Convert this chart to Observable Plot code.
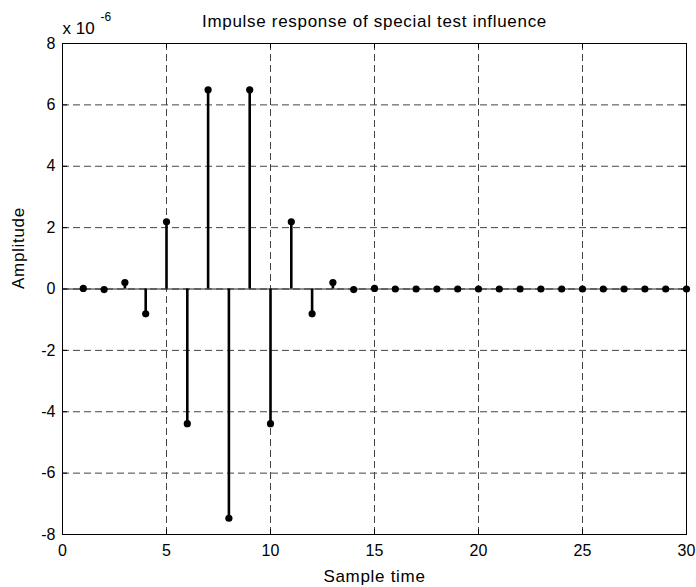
<!DOCTYPE html>
<html>
<head>
<meta charset="utf-8">
<script src="https://cdn.jsdelivr.net/npm/d3@7"></script>
<script src="https://cdn.jsdelivr.net/npm/@observablehq/plot@0.6"></script>
<style>
  html, body { margin: 0; padding: 0; background: #fff; }
  #chart svg { display: block; }
  .lbl text { letter-spacing: 0.7px; }
</style>
</head>
<body>
<div id="chart"></div>
<script>
// Sample times
const sampleTime = d3.range(1, 31);
// Amplitude values in units of 1e-6
const amplitude = [
  0.02, -0.02, 0.21, -0.81, 2.19, -4.39, 6.49, -7.47, 6.49, -4.39,
  2.19, -0.81, 0.21, -0.02, 0.02, 0, 0, 0, 0, 0,
  0, 0, 0, 0, 0, 0, 0, 0, 0, 0
];
const xTicks = [0, 5, 10, 15, 20, 25, 30];
const yTicks = [-8, -6, -4, -2, 0, 2, 4, 6, 8];
const titleText = "Impulse response of special test influence";
const xLabel = "Sample time";
const yLabel = "Amplitude";
const exponentBase = "x 10";
const exponentPower = "-6";

const data = sampleTime.map((t, i) => ({t, v: amplitude[i]}));

const W = 696, H = 587;
const mL = 62, mR = 10, mT = 43, mB = 53;
const fw = W - mL - mR, fh = H - mT - mB;
const tk = 5;

const chart = Plot.plot({
  width: W,
  height: H,
  marginLeft: mL,
  marginRight: mR,
  marginTop: mT,
  marginBottom: mB,
  style: {fontFamily: "'Liberation Sans', Arial, Helvetica, sans-serif", fontSize: "16px", color: "#000", background: "#fff"},
  x: {domain: [0, 30]},
  y: {domain: [-8, 8]},
  marks: [
    // dashed grid
    Plot.ruleX(xTicks, {stroke: "#444", strokeWidth: 1, strokeDasharray: "7,4"}),
    Plot.ruleY(yTicks, {stroke: "#444", strokeWidth: 1, strokeDasharray: "7,4"}),
    // inward ticks
    Plot.ruleX(xTicks, {stroke: "#000", insetTop: fh - tk}),
    Plot.ruleX(xTicks, {stroke: "#000", insetBottom: fh - tk}),
    Plot.ruleY(yTicks, {stroke: "#000", insetRight: fw - tk}),
    Plot.ruleY(yTicks, {stroke: "#000", insetLeft: fw - tk}),
    // baseline
    Plot.ruleY([0], {stroke: "#222", strokeWidth: 1}),
    // stems
    Plot.ruleX(data, {x: "t", y1: 0, y2: "v", stroke: "#000", strokeWidth: 2.6}),
    Plot.dot(data, {x: "t", y: "v", r: 3.6, fill: "#000", stroke: "none"}),
    Plot.frame({stroke: "#000", strokeWidth: 1}),
    // axes
    Plot.axisX(xTicks, {tickSize: 0, tickPadding: 10, fontSize: 16, label: null, tickFormat: d => String(d)}),
    Plot.axisY(yTicks, {tickSize: 0, tickPadding: 7, fontSize: 16, label: null, tickFormat: d => String(d)}),
    // labels
    Plot.text([xLabel], {frameAnchor: "bottom", dy: 47, lineAnchor: "bottom", fontSize: 17, className: "lbl"}),
    Plot.text([yLabel], {frameAnchor: "left", dx: -44, rotate: -90, lineAnchor: "middle", fontSize: 17, className: "lbl"}),
    Plot.text([titleText], {frameAnchor: "top", dy: -17, lineAnchor: "bottom", fontSize: 17, className: "lbl"}),
    Plot.text([exponentBase], {frameAnchor: "top-left", dx: 0, dy: -10, textAnchor: "start", lineAnchor: "bottom", fontSize: 17}),
    Plot.text([exponentPower], {frameAnchor: "top-left", dx: 38, dy: -23, textAnchor: "start", lineAnchor: "bottom", fontSize: 12})
  ]
});
document.getElementById("chart").appendChild(chart);
</script>
</body>
</html>
